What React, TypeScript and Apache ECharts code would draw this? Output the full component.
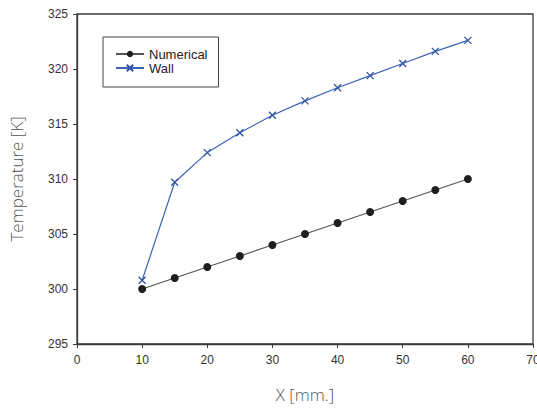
import React, { useEffect, useRef } from "react";
import * as echarts from "echarts";

const xValues = [10, 15, 20, 25, 30, 35, 40, 45, 50, 55, 60];
const numerical = [300, 301, 302, 303, 304, 305, 306, 307, 308, 309, 310];
const wall = [300.8, 309.7, 312.4, 314.2, 315.8, 317.1, 318.3, 319.4, 320.5, 321.6, 322.6];

export default function App() {
  const ref = useRef<HTMLDivElement>(null);
  useEffect(() => {
    const chart = echarts.init(ref.current!, undefined, { renderer: "svg" });
    const font = "Liberation Sans, Arial, sans-serif";
    const lightFont = "Open Sans, Lato, sans-serif";
    chart.setOption({
      animation: false,
      backgroundColor: "#fff",
      grid: {
        left: 77,
        right: 4,
        top: 14,
        bottom: 66,
        show: true,
        borderColor: "#3a3a3a",
        borderWidth: 1.3,
        containLabel: false,
        outerBoundsMode: "none",
      },
      legend: {
        left: 103,
        top: 37,
        orient: "vertical",
        padding: [10, 11, 12, 12],
        itemGap: 0,
        itemWidth: 28,
        itemHeight: 8,
        borderColor: "#444",
        borderWidth: 1,
        textStyle: { fontFamily: font, fontSize: 13, color: "#222", lineHeight: 14 },
        data: ["Numerical", "Wall"],
      },
      xAxis: {
        type: "value",
        min: 0,
        max: 70,
        interval: 10,
        name: "X [mm.]",
        nameLocation: "middle",
        nameGap: 42,
        nameTextStyle: { fontFamily: lightFont, fontWeight: 300, fontSize: 17, color: "#555" },
        axisLine: { lineStyle: { color: "#3a3a3a", width: 1.3 } },
        axisTick: { show: true, length: 4, lineStyle: { color: "#3a3a3a" } },
        axisLabel: { fontFamily: font, fontSize: 12, color: "#333", margin: 10 },
        splitLine: { show: false },
      },
      yAxis: {
        type: "value",
        min: 295,
        max: 325,
        interval: 5,
        name: "Temperature [K]",
        nameLocation: "middle",
        nameGap: 52,
        nameTextStyle: { fontFamily: lightFont, fontWeight: 300, fontSize: 17, color: "#555" },
        axisLine: { show: true, lineStyle: { color: "#3a3a3a", width: 1.3 } },
        axisTick: { show: true, length: 4, lineStyle: { color: "#3a3a3a" } },
        axisLabel: { fontFamily: font, fontSize: 12, color: "#333", margin: 9 },
        splitLine: { show: false },
      },
      series: [
        {
          name: "Numerical",
          type: "line",
          data: xValues.map((x, i) => [x, numerical[i]]),
          symbol: "circle",
          symbolSize: 8,
          lineStyle: { color: "#555", width: 1.2 },
          itemStyle: { color: "#1e1e1e" },
        },
        {
          name: "Wall",
          type: "line",
          data: xValues.map((x, i) => [x, wall[i]]),
          symbol: "path://M0,0L10,10M10,0L0,10",
          symbolSize: 7,
          lineStyle: { color: "#3d63b5", width: 1.2 },
          itemStyle: { color: "none", borderColor: "#2f55a8", borderWidth: 1.3 },
        },
      ],
    });
    return () => chart.dispose();
  }, []);
  return <div ref={ref} style={{ width: 537, height: 410, position: "absolute", left: 0, top: 0 }} />;
}
